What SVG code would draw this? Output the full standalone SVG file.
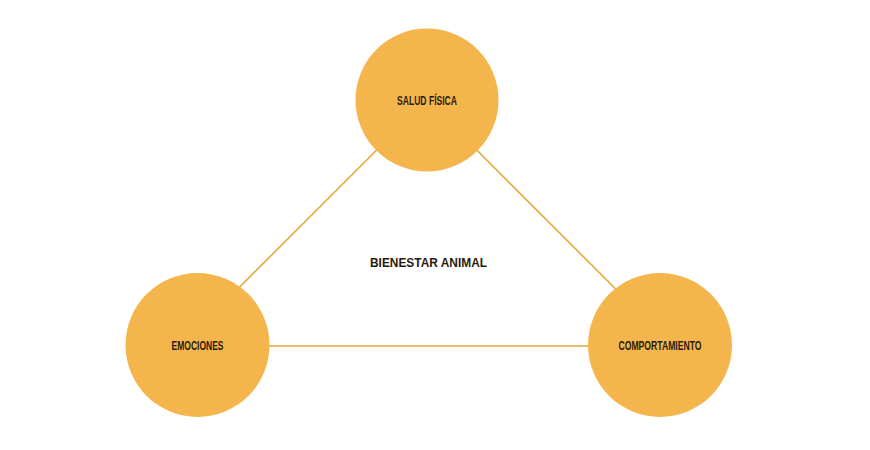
<svg xmlns="http://www.w3.org/2000/svg" width="870" height="450" viewBox="0 0 870 450">
<style>
.node{fill:#f4b64c;}
.edge{stroke:#e2a838;stroke-width:1.6;fill:none;}
.lbl{font-family:"Liberation Sans",Arial,sans-serif;font-weight:bold;fill:#2a1a0c;text-anchor:middle;}
</style>
<rect width="870" height="450" fill="#ffffff"/>
<g id="connectors">
<line class="edge" x1="382" y1="144.7" x2="233" y2="293.7"/>
<line class="edge" x1="471" y1="144.3" x2="622" y2="295.3"/>
<line class="edge" x1="210" y1="346" x2="650" y2="346"/>
</g>
<g id="salud-fisica">
<circle class="node" cx="427" cy="100" r="71.5"/>
<text class="lbl" x="427" y="105" font-size="12" textLength="60" lengthAdjust="spacingAndGlyphs">SALUD FÍSICA</text>
</g>
<g id="emociones">
<circle class="node" cx="197.5" cy="345" r="72"/>
<text class="lbl" x="197.5" y="349.5" font-size="12" textLength="52" lengthAdjust="spacingAndGlyphs">EMOCIONES</text>
</g>
<g id="comportamiento">
<circle class="node" cx="660" cy="345" r="72"/>
<text class="lbl" x="660" y="349.5" font-size="12" textLength="83" lengthAdjust="spacingAndGlyphs">COMPORTAMIENTO</text>
</g>
<g id="bienestar-animal">
<text class="lbl" x="428.5" y="266.5" font-size="13.5" textLength="117" lengthAdjust="spacingAndGlyphs">BIENESTAR ANIMAL</text>
</g>
</svg>
